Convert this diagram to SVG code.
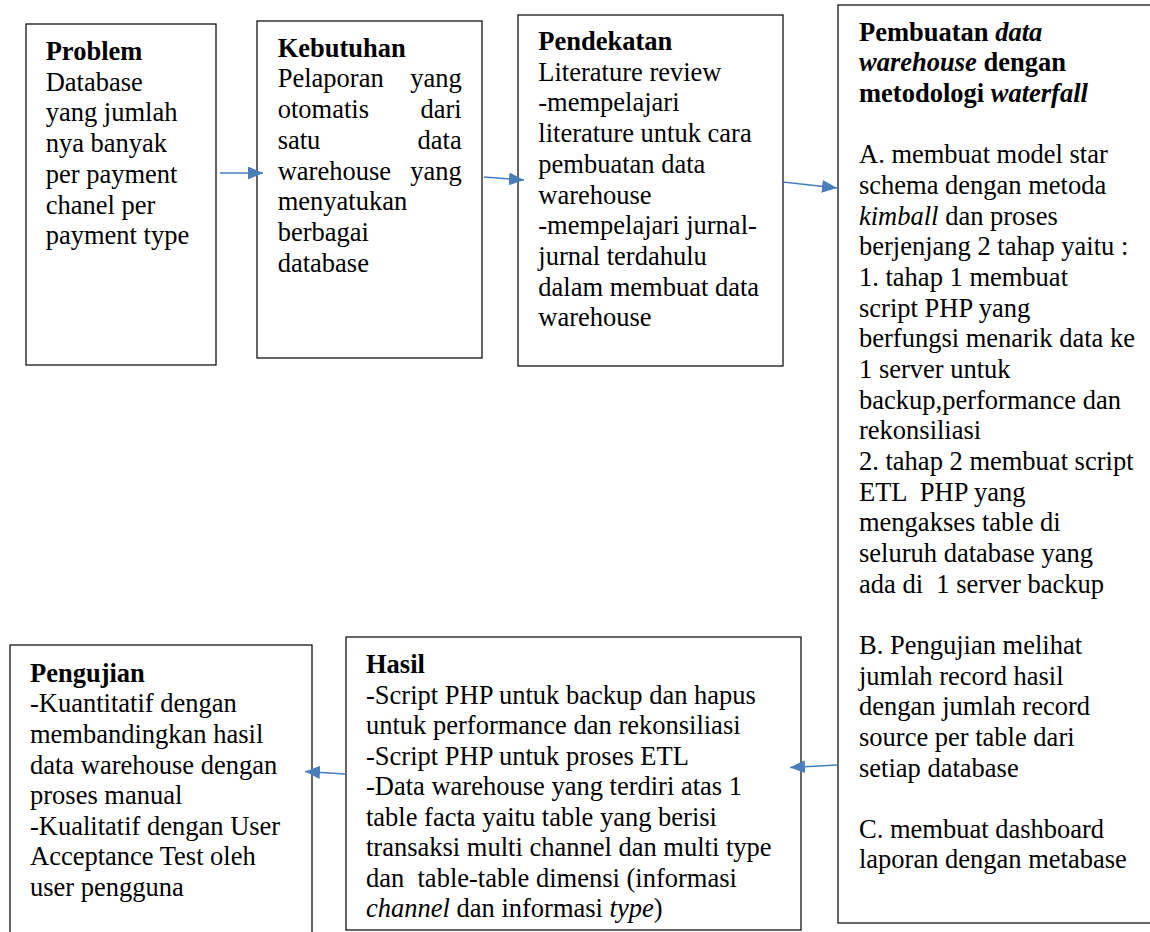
<svg xmlns="http://www.w3.org/2000/svg" width="1150" height="932" viewBox="0 0 1150 932">
<defs>
<style>
.box{fill:#fff;stroke:#000;stroke-width:1.2}
text{font-family:"Liberation Serif","Times New Roman",serif;font-size:26.5px;fill:#000;white-space:pre}
.b{font-weight:bold}
.i{font-style:italic}
.e{text-anchor:end}
.conn{stroke:#4A7EBB;stroke-width:1.6;fill:none;marker-end:url(#ah)}
</style>
<marker id="ah" viewBox="0 0 15 13" refX="15" refY="6.5" markerWidth="15" markerHeight="13" markerUnits="userSpaceOnUse" orient="auto">
<path d="M0,0 L15,6.5 L0,13 z" fill="#4A7EBB"/>
</marker>
</defs>
<rect width="1150" height="932" fill="#fff"/>
<g id="problem">
<rect class="box" x="26" y="24" width="190" height="341"/>
<text class="b" x="45.7" y="60">Problem</text>
<text x="45.7" y="90.7">Database</text>
<text x="45.7" y="121.4">yang jumlah</text>
<text x="45.7" y="152.1">nya banyak</text>
<text x="45.7" y="182.8">per payment</text>
<text x="45.7" y="213.5">chanel per</text>
<text x="45.7" y="244.2">payment type</text>
</g>
<g id="kebutuhan">
<rect class="box" x="257" y="21" width="225" height="337"/>
<text class="b" x="277.7" y="56.7">Kebutuhan</text>
<text x="277.7" y="87.4">Pelaporan</text><text class="e" x="461.7" y="87.4">yang</text>
<text x="277.7" y="118.1">otomatis</text><text class="e" x="461.7" y="118.1">dari</text>
<text x="277.7" y="148.8">satu</text><text class="e" x="461.7" y="148.8">data</text>
<text x="277.7" y="179.5">warehouse</text><text class="e" x="461.7" y="179.5">yang</text>
<text x="277.7" y="210.2">menyatukan</text>
<text x="277.7" y="240.9">berbagai</text>
<text x="277.7" y="271.6">database</text>
</g>
<g id="pendekatan">
<rect class="box" x="518" y="15" width="265" height="351"/>
<text class="b" x="538.3" y="50">Pendekatan</text>
<text x="538.3" y="80.7">Literature review</text>
<text x="538.3" y="111.4">-mempelajari</text>
<text x="538.3" y="142.1">literature untuk cara</text>
<text x="538.3" y="172.8">pembuatan data</text>
<text x="538.3" y="203.5">warehouse</text>
<text x="538.3" y="234.2">-mempelajari jurnal-</text>
<text x="538.3" y="264.9">jurnal terdahulu</text>
<text x="538.3" y="295.6">dalam membuat data</text>
<text x="538.3" y="326.3">warehouse</text>
</g>
<g id="pembuatan">
<rect class="box" x="838" y="5" width="330" height="918"/>
<text class="b" x="859" y="40.7">Pembuatan <tspan class="i">data</tspan></text>
<text class="b" x="859" y="71.4"><tspan class="i">warehouse</tspan> dengan</text>
<text class="b" x="859" y="102.1">metodologi <tspan class="i">waterfall</tspan></text>
<text x="859" y="163.4">A. membuat model star</text>
<text x="859" y="194.1">schema dengan metoda</text>
<text x="859" y="224.8"><tspan class="i">kimball</tspan> dan proses</text>
<text x="859" y="255.4">berjenjang 2 tahap yaitu :</text>
<text x="859" y="286.1">1. tahap 1 membuat</text>
<text x="859" y="316.7">script PHP yang</text>
<text x="859" y="347.4">berfungsi menarik data ke</text>
<text x="859" y="378">1 server untuk</text>
<text x="859" y="408.7">backup,performance dan</text>
<text x="859" y="439.3">rekonsiliasi</text>
<text x="859" y="470">2. tahap 2 membuat script</text>
<text x="859" y="500.6">ETL  PHP yang</text>
<text x="859" y="531.3">mengakses table di</text>
<text x="859" y="561.9">seluruh database yang</text>
<text x="859" y="592.6">ada di  1 server backup</text>
<text x="859" y="653.9">B. Pengujian melihat</text>
<text x="859" y="684.5">jumlah record hasil</text>
<text x="859" y="715.2">dengan jumlah record</text>
<text x="859" y="745.8">source per table dari</text>
<text x="859" y="776.5">setiap database</text>
<text x="859" y="837.8">C. membuat dashboard</text>
<text x="859" y="868.4">laporan dengan metabase</text>
</g>
<g id="hasil">
<rect class="box" x="346" y="637" width="455" height="293"/>
<text class="b" x="366" y="673.3">Hasil</text>
<text x="366" y="703.8">-Script PHP untuk backup dan hapus</text>
<text x="366" y="734.3">untuk performance dan rekonsiliasi</text>
<text x="366" y="764.8">-Script PHP untuk proses ETL</text>
<text x="366" y="795.3">-Data warehouse yang terdiri atas 1</text>
<text x="366" y="825.8">table facta yaitu table yang berisi</text>
<text x="366" y="856.3">transaksi multi channel dan multi type</text>
<text x="366" y="886.8">dan  table-table dimensi (informasi</text>
<text x="366" y="917.3"><tspan class="i">channel</tspan> dan informasi <tspan class="i">type</tspan>)</text>
</g>
<g id="pengujian">
<rect class="box" x="10" y="645" width="302" height="300"/>
<text class="b" x="30" y="681.7">Pengujian</text>
<text x="30" y="712.3">-Kuantitatif dengan</text>
<text x="30" y="742.9">membandingkan hasil</text>
<text x="30" y="773.5">data warehouse dengan</text>
<text x="30" y="804.1">proses manual</text>
<text x="30" y="834.7">-Kualitatif dengan User</text>
<text x="30" y="865.3">Acceptance Test oleh</text>
<text x="30" y="895.9">user pengguna</text>
</g>
<g id="connectors">
<line class="conn" x1="220" y1="173" x2="263" y2="173"/>
<line class="conn" x1="484" y1="177" x2="524" y2="180"/>
<line class="conn" x1="783" y1="182" x2="837" y2="188"/>
<line class="conn" x1="837" y1="765" x2="790" y2="767.5"/>
<line class="conn" x1="345" y1="774" x2="305" y2="771.5"/>
</g>
</svg>
